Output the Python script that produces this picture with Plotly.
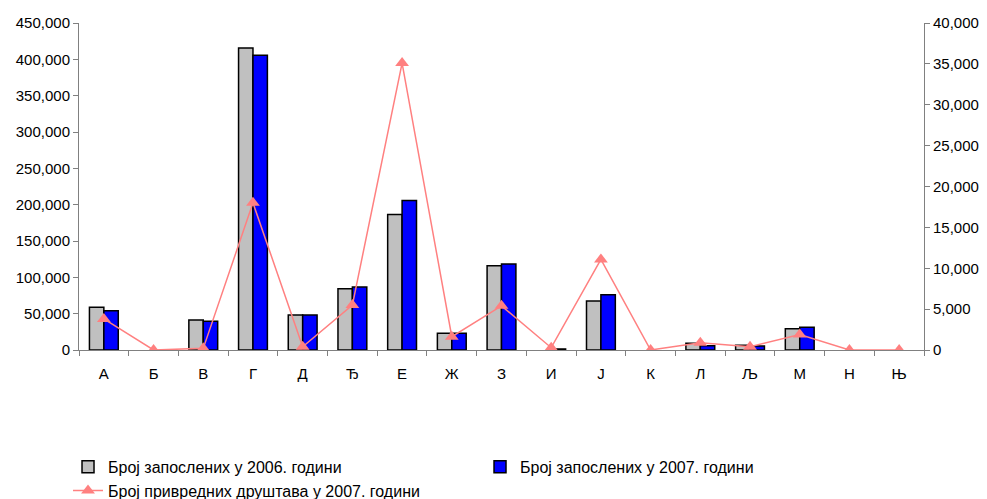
import plotly.graph_objects as go

categories = ["А", "Б", "В", "Г", "Д", "Ђ", "Е", "Ж", "З", "И", "Ј", "К", "Л", "Љ", "М", "Н", "Њ"]
# None = no bar visible in the chart
employees_2006 = [58700, None, 41300, 415700, 48100, 84300, 186600, 22900, 116000, None, 67400, None, 9200, 6400, 29300, None, None]
employees_2007 = [54000, None, 39400, 405600, 48100, 86600, 205800, 22900, 118300, 1400, 76000, None, 6000, 5500, 31200, None, None]
companies_2007 = [3800, 0, 200, 18000, 400, 5500, 35100, 1630, 5400, 280, 11080, 0, 900, 400, 1900, 0, 0]

name_2006 = "Број запослених у 2006. години"
name_2007 = "Број запослених у 2007. години"
name_comp = "Број привредних друштава у 2007. години"

FONT = "Liberation Sans, Arial, sans-serif"

fig = go.Figure()
fig.add_trace(go.Bar(x=categories, y=employees_2006, name=name_2006,
                     marker=dict(color="#C0C0C0", line=dict(color="black", width=1.5))))
fig.add_trace(go.Bar(x=categories, y=employees_2007, name=name_2007,
                     marker=dict(color="#0000FF", line=dict(color="black", width=1.5))))
fig.add_trace(go.Scatter(x=categories, y=companies_2007, name=name_comp, yaxis="y2",
                         mode="lines+markers",
                         line=dict(color="#FF8080", width=1.5),
                         marker=dict(symbol="triangle-up", size=12, color="#FF8080")))

fig.update_layout(
    width=987, height=499,
    margin=dict(l=79, r=63, t=23, b=149, autoexpand=False),
    paper_bgcolor="white", plot_bgcolor="white",
    font=dict(family=FONT, size=15, color="black"),
    barmode="group", bargap=0.42, bargroupgap=0,
    showlegend=True,
    legend=dict(orientation="h", x=-0.013, xanchor="left", y=-0.305, yanchor="top",
                entrywidth=367, entrywidthmode="pixels",
                font=dict(family=FONT, size=16), traceorder="normal"),
    xaxis=dict(type="category", showline=True, linecolor="#808080", linewidth=1,
               ticks="outside", tickson="boundaries", ticklen=5, tickcolor="#808080",
               showgrid=False, tickfont=dict(size=15), ticklabelstandoff=10,
               range=[-0.5, 16.5]),
    yaxis=dict(range=[0, 450000], dtick=50000, tickformat=",d", showline=True,
               linecolor="#808080", ticks="outside", ticklen=5, tickcolor="#808080",
               showgrid=False, zeroline=False, tickfont=dict(size=15)),
    yaxis2=dict(range=[0, 40000], dtick=5000, tickformat=",d", overlaying="y", side="right",
                showline=True, linecolor="#808080", ticks="outside", ticklen=5,
                tickcolor="#808080", showgrid=False, zeroline=False, tickfont=dict(size=15)),
)

fig.write_html("out.html", config={"displayModeBar": False},
               post_script="document.body.style.margin='0';document.body.style.overflow='hidden';")
